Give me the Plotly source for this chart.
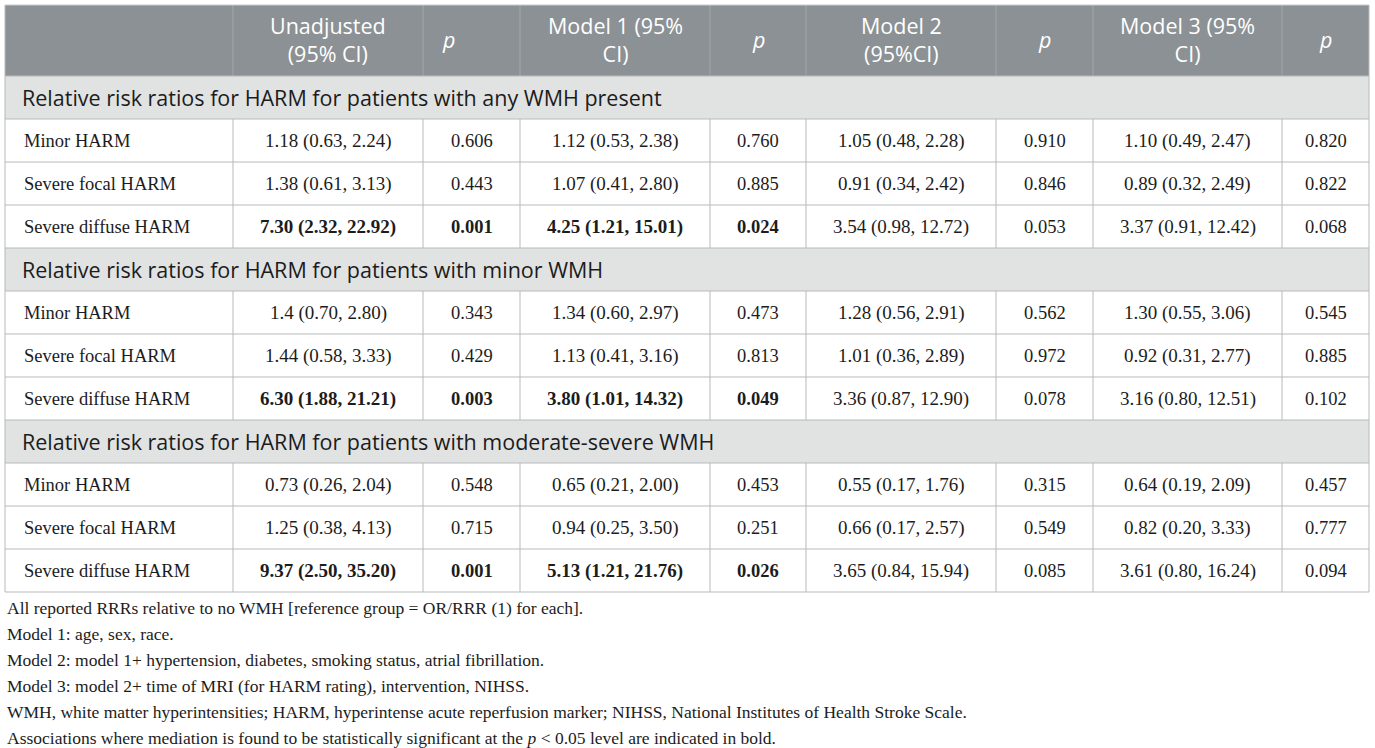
import plotly.graph_objects as go

# column headers
headers = ["", "Unadjusted<br>(95% CI)", "<i>p</i>", "Model 1 (95%<br>CI)", "<i>p</i>",
           "Model 2<br>(95%CI)", "<i>p</i>", "Model 3 (95%<br>CI)", "<i>p</i>"]

groups = [
    "Relative risk ratios for HARM for patients with any WMH present",
    "Relative risk ratios for HARM for patients with minor WMH",
    "Relative risk ratios for HARM for patients with moderate-severe WMH",
]
outcomes = ["Minor HARM", "Severe focal HARM", "Severe diffuse HARM"]

# 9 rows: 3 groups x 3 outcomes
unadj = ["1.18 (0.63, 2.24)", "1.38 (0.61, 3.13)", "7.30 (2.32, 22.92)",
         "1.4 (0.70, 2.80)", "1.44 (0.58, 3.33)", "6.30 (1.88, 21.21)",
         "0.73 (0.26, 2.04)", "1.25 (0.38, 4.13)", "9.37 (2.50, 35.20)"]
p_unadj = [0.606, 0.443, 0.001, 0.343, 0.429, 0.003, 0.548, 0.715, 0.001]
model1 = ["1.12 (0.53, 2.38)", "1.07 (0.41, 2.80)", "4.25 (1.21, 15.01)",
          "1.34 (0.60, 2.97)", "1.13 (0.41, 3.16)", "3.80 (1.01, 14.32)",
          "0.65 (0.21, 2.00)", "0.94 (0.25, 3.50)", "5.13 (1.21, 21.76)"]
p_model1 = [0.760, 0.885, 0.024, 0.473, 0.813, 0.049, 0.453, 0.251, 0.026]
model2 = ["1.05 (0.48, 2.28)", "0.91 (0.34, 2.42)", "3.54 (0.98, 12.72)",
          "1.28 (0.56, 2.91)", "1.01 (0.36, 2.89)", "3.36 (0.87, 12.90)",
          "0.55 (0.17, 1.76)", "0.66 (0.17, 2.57)", "3.65 (0.84, 15.94)"]
p_model2 = [0.910, 0.846, 0.053, 0.562, 0.972, 0.078, 0.315, 0.549, 0.085]
model3 = ["1.10 (0.49, 2.47)", "0.89 (0.32, 2.49)", "3.37 (0.91, 12.42)",
          "1.30 (0.55, 3.06)", "0.92 (0.31, 2.77)", "3.16 (0.80, 12.51)",
          "0.64 (0.19, 2.09)", "0.82 (0.20, 3.33)", "3.61 (0.80, 16.24)"]
p_model3 = [0.820, 0.822, 0.068, 0.545, 0.885, 0.102, 0.457, 0.777, 0.094]

footnotes = [
    "All reported RRRs relative to no WMH [reference group = OR/RRR (1) for each].",
    "Model 1: age, sex, race.",
    "Model 2: model 1+ hypertension, diabetes, smoking status, atrial fibrillation.",
    "Model 3: model 2+ time of MRI (for HARM rating), intervention, NIHSS.",
    "WMH, white matter hyperintensities; HARM, hyperintense acute reperfusion marker; NIHSS, National Institutes of Health Stroke Scale.",
    "Associations where mediation is found to be statistically significant at the <i>p</i> < 0.05 level are indicated in bold.",
]

# layout (pixels)
W, H = 1375, 748
col_x = [5, 233, 423, 520, 710, 806, 996, 1093, 1282, 1369]
top, head_h, row_h = 5, 71, 43
HEAD_BG = "#8b9194"
GROUP_BG = "#e1e3e3"
GRID = "#b7b9ba"
TXT = "#1c1c1c"
SERIF = "Liberation Serif"
SANS = "Open Sans"

fig = go.Figure()
shapes = []
ann = []

def line(x0, y0, x1, y1, color=GRID, w=1):
    shapes.append(dict(type="line", x0=x0, y0=y0, x1=x1, y1=y1, xref="x", yref="y",
                       line=dict(color=color, width=w), layer="above"))

# header
y_head_end = top + head_h
shapes.append(dict(type="rect", x0=col_x[0], x1=col_x[-1], y0=top, y1=y_head_end,
                   xref="x", yref="y", fillcolor=HEAD_BG, line=dict(width=0), layer="below"))
for x in col_x[1:-1]:
    line(x, top, x, y_head_end, color="#a3a8aa")
for i, h in enumerate(headers):
    if not h:
        continue
    cx = (col_x[i] + col_x[i + 1]) / 2
    xa = "center"
    if i == 2:
        cx, xa = col_x[i] + 17, "left"
    ann.append(dict(x=cx, y=top + head_h / 2 - 1, text=h, showarrow=False, xanchor=xa,
                    yanchor="middle", align="center",
                    font=dict(family=SANS, size=21.5, color="white")))

cols = [unadj, p_unadj, model1, p_model1, model2, p_model2, model3, p_model3]
pcols = [p_unadj, p_unadj, p_model1, p_model1, p_model2, p_model2, p_model3, p_model3]

y = y_head_end
row = 0
for g, gname in enumerate(groups):
    shapes.append(dict(type="rect", x0=col_x[0], x1=col_x[-1], y0=y, y1=y + row_h,
                       xref="x", yref="y", fillcolor=GROUP_BG, line=dict(width=0), layer="below"))
    ann.append(dict(x=col_x[0] + 15, y=y + row_h / 2, text=gname, showarrow=False,
                    xanchor="left", yanchor="middle",
                    font=dict(family=SANS, size=21.5, color=TXT)))
    line(col_x[0], y, col_x[-1], y)
    y += row_h
    for k, name in enumerate(outcomes):
        line(col_x[0], y, col_x[-1], y)
        for x in col_x[1:-1]:
            line(x, y, x, y + row_h)
        ann.append(dict(x=col_x[0] + 17, y=y + row_h / 2, text=name, showarrow=False,
                        xanchor="left", yanchor="middle",
                        font=dict(family=SERIF, size=18.5, color=TXT)))
        for c, vals in enumerate(cols):
            v = vals[row]
            txt = f"{v:.3f}" if isinstance(v, float) else v
            if pcols[c][row] < 0.05:
                txt = f"<b>{txt}</b>"
            cx = (col_x[c + 1] + col_x[c + 2]) / 2
            ann.append(dict(x=cx, y=y + row_h / 2, text=txt, showarrow=False,
                            xanchor="center", yanchor="middle",
                            font=dict(family=SERIF, size=19 if c % 2 == 0 else 18.5, color=TXT)))
        y += row_h
        row += 1

# outer border
line(col_x[0], y, col_x[-1], y)
line(col_x[0], top, col_x[0], y)
line(col_x[-1], top, col_x[-1], y)
line(col_x[0], top, col_x[-1], top, color="#c9cbcc")

# footnotes
fy = y + 16
for t in footnotes:
    ann.append(dict(x=col_x[0], y=fy, text=t, showarrow=False, xanchor="left", yanchor="middle",
                    font=dict(family=SERIF, size=17.5, color=TXT)))
    fy += 26

fig.update_layout(
    width=W, height=H, autosize=False,
    margin=dict(l=0, r=0, t=0, b=0),
    paper_bgcolor="white", plot_bgcolor="white",
    xaxis=dict(range=[0, W], visible=False, fixedrange=True),
    yaxis=dict(range=[H, 0], visible=False, fixedrange=True),
    shapes=shapes, annotations=ann, showlegend=False,
)

# the page body has a default 8px margin; drop it so the table sits at the window edge
fig.write_html("out.html", config={"displayModeBar": False},
               post_script="document.body.style.margin='0';")
